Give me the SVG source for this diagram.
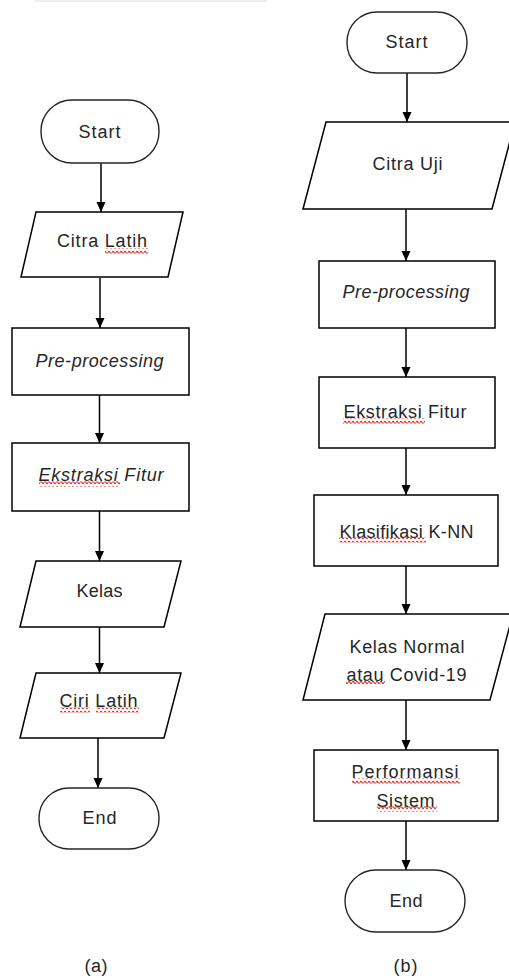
<svg xmlns="http://www.w3.org/2000/svg" width="509" height="978" viewBox="0 0 509 978">
<style>
  .shape { fill: #ffffff; stroke: #000000; stroke-width: 1.5; }
  .term { fill: #ffffff; stroke: #262626; stroke-width: 1.4; }
  .lbl { font-family: "Liberation Sans", Arial, sans-serif; font-size: 18px; fill: #262626; text-anchor: middle; }
  .it { font-style: italic; }
  .conn line { stroke: #000000; stroke-width: 1.5; marker-end: url(#arrow); }
  .sq { fill: url(#squig); }
</style>
<defs>
  <marker id="arrow" markerUnits="userSpaceOnUse" markerWidth="10" markerHeight="11" refX="11" refY="5" orient="auto" viewBox="0 0 11 10">
    <path d="M0,0 L11,5 L0,10 z" fill="#000000"/>
  </marker>
  <pattern id="squig" patternUnits="userSpaceOnUse" width="4" height="5">
    <path d="M0,2.5 Q1,0.3 2,2.5 T4,2.5" fill="none" stroke="#e02828" stroke-width="1.1"/>
  </pattern>
</defs>
<rect width="509" height="978" fill="#ffffff"/>
<rect x="35" y="0" width="232" height="2" fill="#eeeeee"/>

<g id="connectors" class="conn">
  <line x1="101" y1="163" x2="101" y2="212"/>
  <line x1="100" y1="278" x2="100" y2="328"/>
  <line x1="99.5" y1="395" x2="99.5" y2="443"/>
  <line x1="99.5" y1="511" x2="99.5" y2="561"/>
  <line x1="99.5" y1="627" x2="99.5" y2="673"/>
  <line x1="98" y1="738" x2="98" y2="788"/>
  <line x1="407" y1="73" x2="407" y2="122"/>
  <line x1="406" y1="209" x2="406" y2="261"/>
  <line x1="406" y1="328" x2="406" y2="377"/>
  <line x1="406" y1="448" x2="406" y2="495"/>
  <line x1="406" y1="566" x2="406" y2="614"/>
  <line x1="406" y1="700" x2="406" y2="750"/>
  <line x1="406" y1="821" x2="406" y2="870"/>
</g>

<!-- Flowchart (a) -->
<g id="a-start">
  <rect class="term" x="41" y="100" width="118" height="63" rx="31" ry="31"/>
  <text class="lbl" x="99.5" y="138" textLength="42">Start</text>
</g>
<g id="a-citra-latih">
  <polygon class="shape" points="36,212 183,212 168,277 21,277"/>
  <text class="lbl" x="102" y="247" textLength="90">Citra Latih</text>
  <rect class="sq" x="105" y="248.5" width="43" height="5"/>
</g>
<g id="a-preprocessing">
  <rect class="shape" x="12" y="328" width="177" height="67"/>
  <text class="lbl it" x="99.5" y="367" textLength="128">Pre-processing</text>
</g>
<g id="a-ekstraksi">
  <rect class="shape" x="12" y="443" width="177" height="68"/>
  <text class="lbl it" x="101" y="481" textLength="125">Ekstraksi Fitur</text>
  <rect class="sq" x="39" y="481.5" width="81" height="5"/>
</g>
<g id="a-kelas">
  <polygon class="shape" points="36,561 181,561 164,627 20,627"/>
  <text class="lbl" x="99.5" y="597" textLength="46">Kelas</text>
</g>
<g id="a-ciri-latih">
  <polygon class="shape" points="36,673 181,673 164,738 20,738"/>
  <text class="lbl" x="98.5" y="707" textLength="78">Ciri Latih</text>
  <rect class="sq" x="60" y="707.5" width="30" height="5"/>
  <rect class="sq" x="96" y="707.5" width="43" height="5"/>
</g>
<g id="a-end">
  <rect class="term" x="39" y="788" width="120" height="61" rx="30" ry="30"/>
  <text class="lbl" x="99.5" y="824" textLength="34">End</text>
</g>
<g id="label-a">
  <text class="lbl" x="96" y="972" textLength="23">(a)</text>
</g>

<!-- Flowchart (b) -->
<g id="b-start">
  <rect class="term" x="347" y="12" width="120" height="61" rx="30" ry="30"/>
  <text class="lbl" x="406.5" y="48" textLength="42">Start</text>
</g>
<g id="b-citra-uji">
  <polygon class="shape" points="326,122 515,122 492,209 303,209"/>
  <text class="lbl" x="407.5" y="170" textLength="70">Citra Uji</text>
</g>
<g id="b-preprocessing">
  <rect class="shape" x="319" y="261" width="176" height="67"/>
  <text class="lbl it" x="406" y="298" textLength="127">Pre-processing</text>
</g>
<g id="b-ekstraksi">
  <rect class="shape" x="319" y="377" width="176" height="71"/>
  <text class="lbl" x="405" y="418" textLength="123">Ekstraksi Fitur</text>
  <rect class="sq" x="343" y="418.5" width="82" height="5"/>
</g>
<g id="b-klasifikasi">
  <rect class="shape" x="314" y="495" width="184" height="71"/>
  <text class="lbl" x="406.5" y="538" textLength="134">Klasifikasi K-NN</text>
  <rect class="sq" x="339" y="537.5" width="87" height="5"/>
</g>
<g id="b-kelas-normal">
  <polygon class="shape" points="325,614 513,614 490,700 303,700"/>
  <text class="lbl" x="407" y="653" textLength="115">Kelas Normal</text>
  <text class="lbl" x="406.5" y="681" textLength="120">atau Covid-19</text>
  <rect class="sq" x="346" y="679.5" width="39" height="5"/>
</g>
<g id="b-performansi">
  <rect class="shape" x="314" y="750" width="184" height="71"/>
  <text class="lbl" x="405" y="778" textLength="107">Performansi</text>
  <rect class="sq" x="352" y="778.5" width="108" height="5"/>
  <text class="lbl" x="405.5" y="807" textLength="58">Sistem</text>
  <rect class="sq" x="377" y="806.5" width="60" height="5"/>
</g>
<g id="b-end">
  <rect class="term" x="345" y="870" width="120" height="62" rx="31" ry="31"/>
  <text class="lbl" x="406" y="907" textLength="33">End</text>
</g>
<g id="label-b">
  <text class="lbl" x="405.5" y="972" textLength="24">(b)</text>
</g>
</svg>
